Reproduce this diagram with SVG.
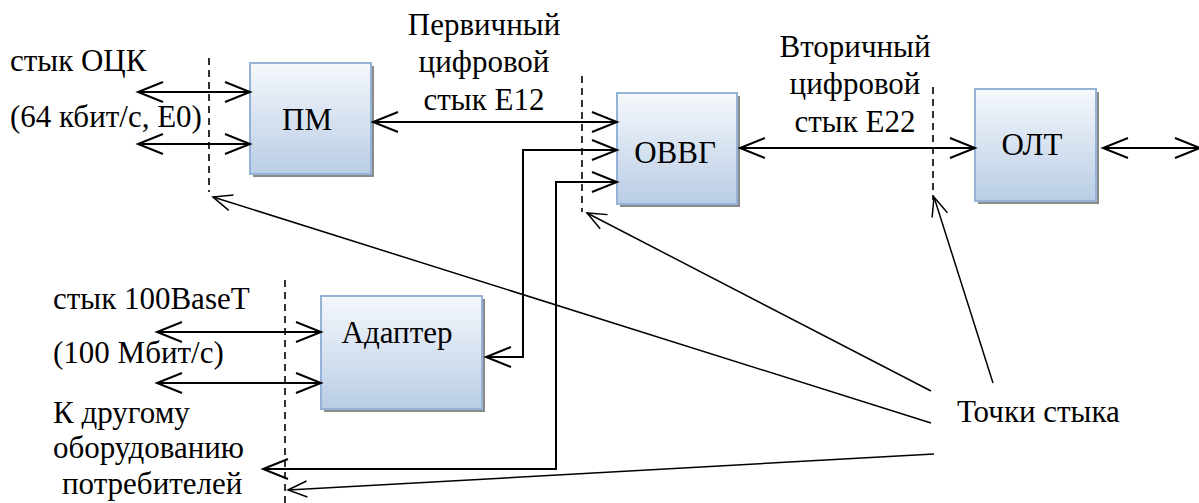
<svg xmlns="http://www.w3.org/2000/svg" width="1199" height="503" viewBox="0 0 1199 503">
<style>
.t{font-family:'Liberation Serif','DejaVu Serif','Noto Serif',serif;font-size:31px;fill:#000}
.c{text-anchor:middle}
.box{fill:url(#g);stroke:#95b3d7;stroke-width:2}
.sh{fill:#8a8a8a}
.ln{fill:none;stroke:#000;stroke-width:2}
.dg{fill:none;stroke:#000;stroke-width:1.5}
.ds{fill:none;stroke:#000;stroke-width:1.6;stroke-dasharray:7 5}
</style>
<defs>
<linearGradient id="g" x1="0" y1="0" x2="0" y2="1">
<stop offset="0" stop-color="#f5f8fc"/>
<stop offset="1" stop-color="#b9cde5"/>
</linearGradient>
<marker id="a" markerUnits="userSpaceOnUse" markerWidth="30" markerHeight="24" refX="0" refY="0" viewBox="-27 -12 30 24" orient="auto-start-reverse" overflow="visible">
<path d="M-25,-10 L0,0 L-25,10" fill="none" stroke="#000" stroke-width="2"/>
</marker>
<marker id="s" markerUnits="userSpaceOnUse" markerWidth="24" markerHeight="20" refX="0" refY="0" viewBox="-22 -10 24 20" orient="auto" overflow="visible">
<path d="M-19,-8 L0,0 L-19,8" fill="none" stroke="#000" stroke-width="1.5"/>
</marker>
</defs>
<rect width="1199" height="503" fill="#fff"/>

<g id="dashes">
<line class="ds" x1="209" y1="58" x2="209" y2="192"/>
<line class="ds" x1="582" y1="76" x2="582" y2="212"/>
<line class="ds" x1="933" y1="87" x2="933" y2="200"/>
<line class="ds" x1="285" y1="280" x2="285" y2="503"/>
</g>

<g id="node-pm">
<rect class="sh" x="253" y="66" width="121" height="111"/>
<rect class="box" x="250" y="63" width="121" height="111"/>
<text class="t c" font-family="Liberation Serif, serif" x="307" y="130">ПМ</text>
</g>
<g id="node-ovvg">
<rect class="sh" x="620" y="96" width="120" height="111"/>
<rect class="box" x="617" y="93" width="120" height="111"/>
<text class="t c" font-family="Liberation Serif, serif" x="675" y="163">ОВВГ</text>
</g>
<g id="node-olt">
<rect class="sh" x="978" y="92" width="121" height="112"/>
<rect class="box" x="975" y="89" width="121" height="112"/>
<text class="t c" font-family="Liberation Serif, serif" x="1032" y="155">ОЛТ</text>
</g>
<g id="node-adapter">
<rect class="sh" x="324" y="299" width="161" height="113"/>
<rect class="box" x="321" y="296" width="161" height="113"/>
<text class="t c" font-family="Liberation Serif, serif" x="397" y="343">Адаптер</text>
</g>

<g id="labels" font-family="Liberation Serif, serif">
<text class="t" x="10" y="71">стык ОЦК</text>
<text class="t" x="10" y="127">(64 кбит/с, Е0)</text>
<text class="t c" x="484" y="35">Первичный</text>
<text class="t c" x="484" y="72">цифровой</text>
<text class="t c" x="484" y="110">стык Е12</text>
<text class="t c" x="855" y="57">Вторичный</text>
<text class="t c" x="855" y="94">цифровой</text>
<text class="t c" x="855" y="132">стык Е22</text>
<text class="t" x="53" y="309">стык 100BaseT</text>
<text class="t" x="53" y="363">(100 Мбит/с)</text>
<text class="t" x="53" y="423">К другому</text>
<text class="t" x="53" y="458">оборудованию</text>
<text class="t" x="62" y="494">потребителей</text>
<text class="t" x="957" y="422">Точки стыка</text>
</g>

<g id="connectors">
<line class="ln" x1="138" y1="92" x2="250" y2="92" marker-start="url(#a)" marker-end="url(#a)"/>
<line class="ln" x1="138" y1="144" x2="250" y2="144" marker-start="url(#a)" marker-end="url(#a)"/>
<line class="ln" x1="373" y1="122" x2="617" y2="122" marker-start="url(#a)" marker-end="url(#a)"/>
<line class="ln" x1="740" y1="148" x2="975" y2="148" marker-start="url(#a)" marker-end="url(#a)"/>
<line class="ln" x1="1103" y1="148" x2="1200" y2="148" marker-start="url(#a)" marker-end="url(#a)"/>
<line class="ln" x1="157" y1="332" x2="321" y2="332" marker-start="url(#a)" marker-end="url(#a)"/>
<line class="ln" x1="157" y1="383" x2="321" y2="383" marker-start="url(#a)" marker-end="url(#a)"/>
<polyline class="ln" points="617,150 523,150 523,357 486,357" marker-start="url(#a)" marker-end="url(#a)"/>
<polyline class="ln" points="617,182 556,182 556,469 263,469" marker-start="url(#a)" marker-end="url(#a)"/>
<line class="dg" x1="931" y1="391" x2="587" y2="213" marker-end="url(#s)"/>
<line class="dg" x1="931" y1="423" x2="213" y2="197" marker-end="url(#s)"/>
<line class="dg" x1="934" y1="454" x2="288" y2="490" marker-end="url(#s)"/>
<line class="dg" x1="993" y1="383" x2="934" y2="197" marker-end="url(#s)"/>
</g>
</svg>
